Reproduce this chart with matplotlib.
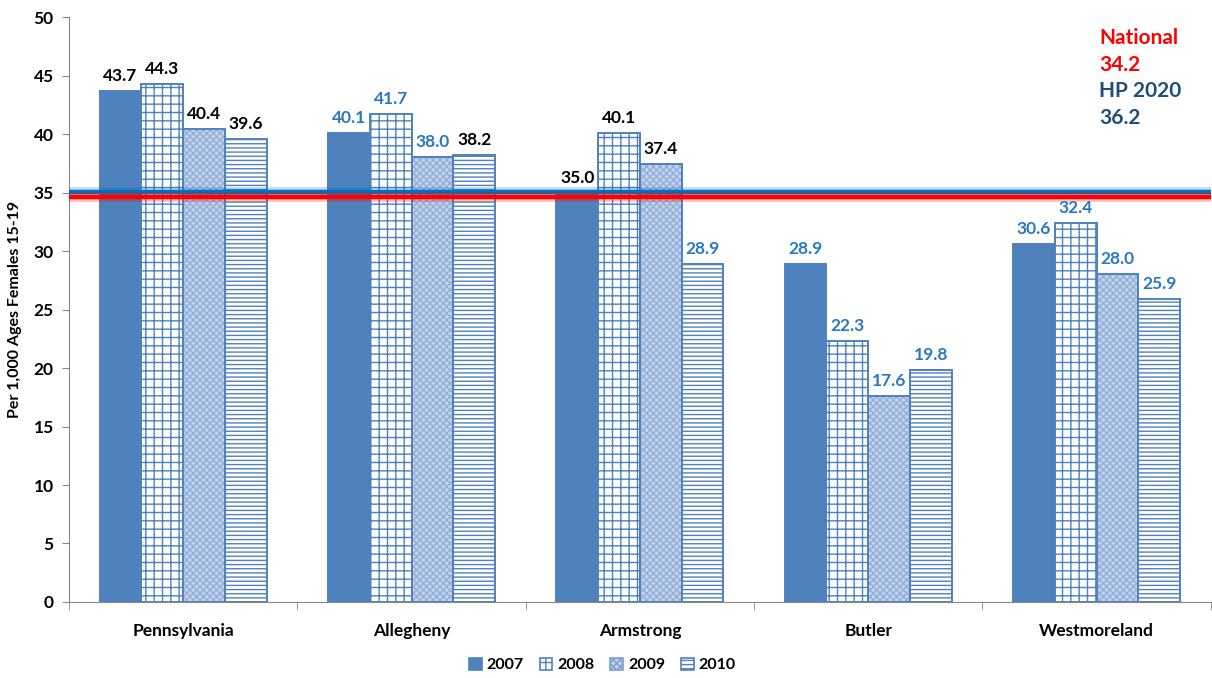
import numpy as np
import matplotlib
matplotlib.use("Agg")
import matplotlib.pyplot as plt
from matplotlib.patches import Patch

# --- data ---
counties = ["Pennsylvania", "Allegheny", "Armstrong", "Butler", "Westmoreland"]
years = ["2007", "2008", "2009", "2010"]
rate_2007 = [43.7, 40.1, 35.0, 28.9, 30.6]
rate_2008 = [44.3, 41.7, 40.1, 22.3, 32.4]
rate_2009 = [40.4, 38.0, 37.4, 17.6, 28.0]
rate_2010 = [39.6, 38.2, 28.9, 19.8, 25.9]
# label colour per bar: True = blue, False = black (as in the source chart)
blue_2007 = [False, True, False, True, True]
blue_2008 = [False, True, False, True, True]
blue_2009 = [False, True, False, True, True]
blue_2010 = [False, False, True, True, True]
# reference lines, where they are drawn on the chart
hp2020_line = 35.07
national_line = 34.64
ref_texts = ["National", "34.2", "HP 2020", "36.2"]

BAR = "#4F81BD"
LBL_BLUE = "#2A78C4"
RED = "#FF0000"
NAVY = "#1F4E79"

plt.rcParams["font.family"] = ["Lato", "DejaVu Sans"]
plt.rcParams["font.weight"] = "bold"
plt.rcParams["hatch.linewidth"] = 1.0

fig = plt.figure(figsize=(12.12, 6.78), dpi=100)
ax = fig.add_axes([0.0569, 0.1121, 0.9421, 0.8628])

x = np.arange(len(counties))
w = 0.183
series = [rate_2007, rate_2008, rate_2009, rate_2010]
blues = [blue_2007, blue_2008, blue_2009, blue_2010]
# (facecolor, hatch colour, hatch)
styles = [
    (BAR, BAR, None),
    ("white", BAR, "++"),
    ("#C3D3EA", "#93AED8", "xxxxx"),
    ("white", BAR, "----"),
]

handles = []
for i, (vals, (fc, hc, hatch)) in enumerate(zip(series, styles)):
    pos = x + (i - 1.5) * w
    # fill + hatch layer
    ax.bar(pos, vals, w, facecolor=fc, edgecolor=hc, hatch=hatch,
           linewidth=0, zorder=2)
    # outline layer
    bars = ax.bar(pos, vals, w, facecolor="none", edgecolor=BAR,
                  linewidth=1.4, zorder=2)
    handles.append(Patch(facecolor=fc, edgecolor=BAR if hatch != "xxxxx" else "#7F9FD0",
                         hatch=hatch, linewidth=1.2, label=years[i]))
    for b, v, isblue in zip(bars, vals, blues[i]):
        ax.annotate(f"{v:.1f}", (b.get_x() + b.get_width() / 2, v),
                    xytext=(0, 5), textcoords="offset points",
                    ha="center", va="bottom", fontsize=12.5, fontweight="bold",
                    color=LBL_BLUE if isblue else "black", zorder=4)

# reference lines with a soft glow
for val, col in [(hp2020_line, "#0070C0"), (national_line, RED)]:
    ax.axhline(val, color=col, linewidth=7, alpha=0.25, zorder=3)
    ax.axhline(val, color=col, linewidth=3.2, zorder=3)

# top-right annotation
tcols = [RED, RED, NAVY, NAVY]
for k, (t, c) in enumerate(zip(ref_texts, tcols)):
    fig.text(1099 / 1212, 1 - (38 + k * 26.7) / 678, t, color=c, fontsize=15,
             fontweight="bold", ha="left", va="center")

ax.set_xlim(-0.5, len(counties) - 0.5)
ax.set_ylim(0, 50)
ax.set_yticks(np.arange(0, 51, 5))
ax.set_xticks(x)
ax.set_xticklabels(counties, fontsize=12.5, fontweight="bold")
ax.set_xticks(np.arange(-0.5, len(counties), 1), minor=True)
ax.tick_params(axis="x", which="major", length=0, pad=15)
ax.tick_params(axis="x", which="minor", length=6, color="#888888")
ax.tick_params(axis="y", length=5, color="#888888", labelsize=12.5, pad=6)
for lbl in ax.get_yticklabels():
    lbl.set_fontweight("bold")
ax.spines["top"].set_visible(False)
ax.spines["right"].set_visible(False)
ax.spines["left"].set_color("#888888")
ax.spines["bottom"].set_color("#888888")
ax.set_ylabel("Per 1,000 Ages Females 15-19", fontsize=11.5, fontweight="bold", labelpad=8)

ax.legend(handles=handles, loc="center", bbox_to_anchor=(0.497, 0.019),
          bbox_transform=fig.transFigure, ncol=4, frameon=False,
          handlelength=0.8, handleheight=0.8, handletextpad=0.3,
          columnspacing=1.0, prop=dict(size=11.5, weight="bold"))

fig.savefig("out.png", dpi=100)
